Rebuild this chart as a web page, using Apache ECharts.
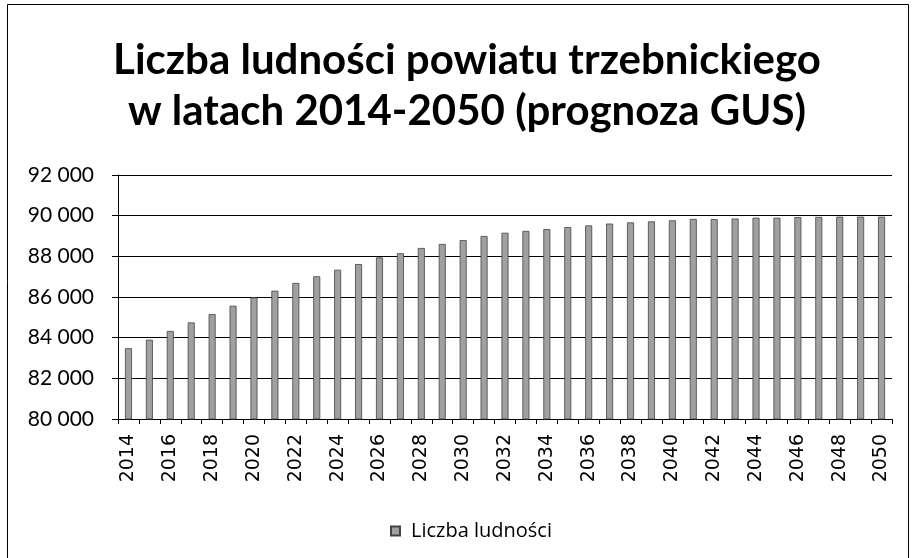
<!DOCTYPE html>
<html><head><meta charset="utf-8">
<script src="https://cdn.jsdelivr.net/npm/echarts@6/dist/echarts.min.js"></script>
<style>html,body{margin:0;padding:0;background:#fff}#c{width:912px;height:558px}</style>
</head><body><div id="c"></div>
<script>
const years = ['2014','2015','2016','2017','2018','2019','2020','2021','2022','2023','2024','2025','2026','2027','2028','2029','2030','2031','2032','2033','2034','2035','2036','2037','2038','2039','2040','2041','2042','2043','2044','2045','2046','2047','2048','2049','2050'];
const population = [83480,83900,84330,84750,85160,85570,85980,86310,86690,87020,87340,87620,87950,88150,88410,88610,88800,89000,89160,89250,89340,89440,89520,89610,89670,89720,89770,89840,89830,89860,89900,89900,89930,89940,89950,89950,89950];
const seriesName = 'Liczba ludności';
const titleText = 'Liczba ludności powiatu trzebnickiego\nw latach 2014-2050 (prognoza GUS)';

const chart = echarts.init(document.getElementById('c'));
chart.setOption({
  animation: false,
  backgroundColor: '#fff',
  graphic: [{type:'rect', shape:{x:7.5,y:4.5,width:901,height:560}, style:{fill:'none', stroke:'#000', lineWidth:1}}],
  title: {
    text: titleText, left: 467, top: 35, padding: 0, textAlign: 'center',
    textStyle: {fontFamily:'Lato', fontWeight:'bold', fontSize:42, color:'#000', lineHeight:51}
  },
  legend: {
    top: 515, left: 385, itemWidth: 9, itemHeight: 9, itemGap: 4,
    icon: 'rect',
    textStyle: {fontFamily:'Open Sans', fontSize:20, color:'#000', lineHeight:22, padding:[0,0,0,6]},
    data: [seriesName]
  },
  grid: {left:118, right:20, top:175, bottom:139, containLabel:false},
  xAxis: {
    type:'category', data: years, boundaryGap: true,
    axisLine:{lineStyle:{color:'#000', width:1}},
    axisTick:{show:true, interval:0, length:5, lineStyle:{color:'#000'}},
    axisLabel:{interval:1, rotate:90, fontFamily:'DejaVu Sans', fontSize:19, color:'#000', margin:15}
  },
  yAxis: {
    type:'value', min:80000, max:92000, interval:2000,
    axisLine:{show:true, lineStyle:{color:'#000'}},
    axisTick:{show:true, length:6, lineStyle:{color:'#000'}},
    splitLine:{lineStyle:{color:'#000', width:1}},
    axisLabel:{fontFamily:'Lato', fontSize:21, color:'#000', margin:24,
      formatter: v => String(v).replace(/\B(?=(\d{3})+(?!\d))/g, ' ')}
  },
  series: [{
    name: seriesName, type:'bar', data: population, barWidth: 7,
    itemStyle:{color:'#a0a0a0', borderColor:'#444', borderWidth:0.8}
  }]
});
</script></body></html>
